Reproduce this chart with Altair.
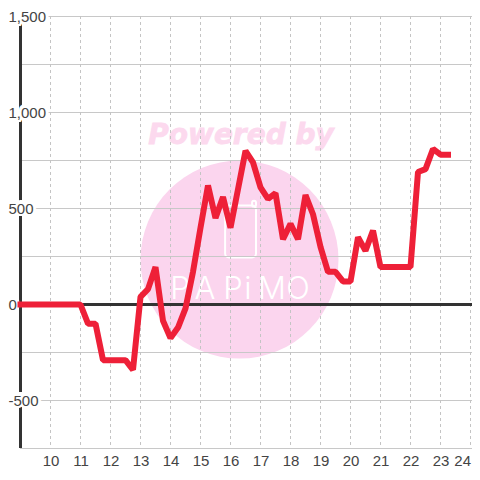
import altair as alt
import pandas as pd

hours = [9, 10, 11, 11.25, 11.5, 11.75, 12, 12.25, 12.5, 12.75, 13, 13.25, 13.5, 13.75, 14, 14.25, 14.5, 14.75,
         15, 15.25, 15.5, 15.75, 16, 16.25, 16.5, 16.75, 17, 17.25, 17.5, 17.75, 18, 18.25, 18.5, 18.75,
         19, 19.25, 19.5, 19.75, 20, 20.25, 20.5, 20.75, 21, 21.25, 21.5, 21.75, 22, 22.25, 22.5, 22.75, 23, 23.25]
values = [0, 0, 0, -100, -100, -290, -290, -290, -290, -340, 40, 80, 195, -85, -175, -120, -20, 170,
          400, 620, 450, 560, 400, 600, 800, 740, 610, 550, 580, 340, 420, 340, 570, 470,
          300, 170, 170, 120, 120, 350, 280, 385, 195, 195, 195, 195, 195, 690, 705, 810, 780, 780]

y_grid = [1500, 1250, 1000, 750, 500, 250, -250, -500, -750]
y_ticks = [1500, 1000, 500, 0, -500]
y_tick_labels = ["1,500", "1,000", "500", "0", "-500"]
x_ticks = list(range(10, 25))

logo_letters = ["P", "A", "P", "i", "M", "O"]
logo_hours = [14.32, 15.15, 16.08, 16.58, 17.38, 18.25]

PINK = "#fbd5ee"
FONT = "Liberation Sans"
x_scale = alt.Scale(domain=[8.98333, 24.05], nice=False, zero=False)
y_scale = alt.Scale(domain=[-747.4, 1502.6], nice=False, zero=False)
x_axis = alt.Axis(
    values=x_ticks, format="d", grid=False, domain=False, ticks=False, title=None,
    labelFont=FONT, labelFontSize=15, labelColor="#444444", labelPadding=5, labelOverlap=False,
    labelAlign={"condition": {"test": "datum.value == 24", "value": "right"}, "value": "center"},
    labelFlush=False, zindex=1)
y_axis = alt.Axis(
    values=y_ticks, format=",d", labelExpr="replace(datum.label, '\u2212', '-')",
    grid=False, domain=False, ticks=False, title=None,
    labelFont=FONT, labelFontSize=15, labelColor="#444444", labelAlign="left", labelPadding=12,
    labelOverlap=False, labelFlush=False, zindex=1)


def X(field="x"):
    return alt.X(field, type="quantitative", scale=x_scale, axis=x_axis)


def Y(field="y"):
    return alt.Y(field, type="quantitative", scale=y_scale, axis=y_axis)


circle = alt.Chart(pd.DataFrame({"x": [16.3], "y": [234]})).mark_point(
    shape="circle", filled=True, size=39200, color=PINK, opacity=1
).encode(x=X(), y=Y())

powered = alt.Chart(pd.DataFrame({"x": [16.35], "y": [880], "t": ["Powered by"]})).mark_text(
    font="DejaVu Sans", fontWeight="bold", fontStyle="italic", fontSize=28, color="#fcd9ee", baseline="middle",
    stroke="#fcd9ee", strokeWidth=0.8
).encode(x=X(), y=Y(), text="t:N")

phone = alt.Chart(pd.DataFrame({"x": [15.82], "x2": [16.85], "y": [516], "y2": [245]})).mark_rect(
    fillOpacity=0, stroke="white", strokeWidth=2, cornerRadius=4
).encode(x=X(), x2="x2:Q", y=Y(), y2="y2:Q")

ear = alt.Chart(pd.DataFrame({"x": [16.72], "x2": [16.85], "y": [541], "y2": [510]})).mark_rect(
    fillOpacity=0, stroke="white", strokeWidth=2, cornerRadius=2
).encode(x=X(), x2="x2:Q", y=Y(), y2="y2:Q")

letters = alt.Chart(pd.DataFrame({"x": logo_hours, "y": [73] * 6, "t": logo_letters})).mark_text(
    font="Inter", fontWeight=300, fontSize=31, color="white", baseline="middle"
).encode(x=X(), y=Y(), text="t:N")

grid_h = alt.Chart(pd.DataFrame({"y": y_grid})).mark_rule(color="#c8c8c8", strokeWidth=1).encode(y=Y())
grid_v = alt.Chart(pd.DataFrame({"x": x_ticks})).mark_rule(
    color="#c4c4c4", strokeWidth=1, strokeDash=[3, 3]
).encode(x=X())
left_line = alt.Chart(pd.DataFrame({"x": [9]})).mark_rule(color="#333333", strokeWidth=3).encode(x=X())
zero_line = alt.Chart(pd.DataFrame({"y": [0]})).mark_rule(color="#333333", strokeWidth=3).encode(y=Y())

halo = alt.Chart(pd.DataFrame({"x": [9] * 5, "y": y_ticks, "t": y_tick_labels})).mark_text(
    font=FONT, fontSize=15, align="left", baseline="middle", dx=-12,
    color="white", stroke="white", strokeWidth=6
).encode(x=X(), y=Y(), text="t:N")

series = alt.Chart(pd.DataFrame({"x": hours, "y": values})).mark_line(
    color="#ee2038", strokeWidth=6, strokeCap="square", strokeJoin="bevel", clip=False
).encode(x=X(), y=Y(), order="x:Q")

chart = alt.layer(
    circle, powered, phone, ear, letters, grid_h, grid_v, left_line, zero_line, halo, series
).properties(
    width=452, height=432,
    padding={"left": 12, "top": 8, "right": 0, "bottom": 24},
    autosize=alt.AutoSizeParams(type="none"),
    background="white",
).configure_view(stroke=None)

chart.save("out.html", embed_options={"renderer": "svg", "actions": False})
